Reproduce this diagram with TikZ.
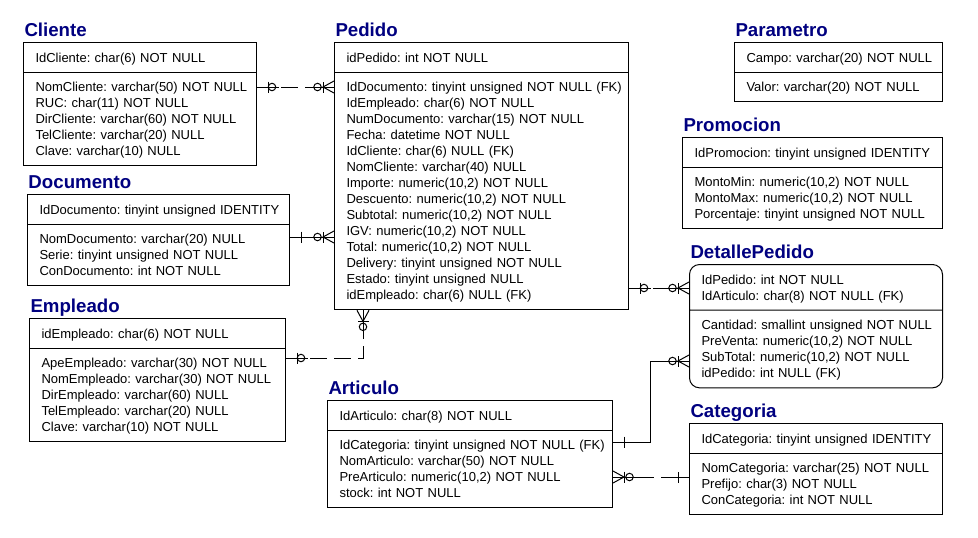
\documentclass[tikz,border=0pt]{standalone}
\usepackage{fontspec}
\setmainfont{Liberation Sans}
\usetikzlibrary{shapes.multipart}
\definecolor{erblue}{RGB}{0,0,128}
\frenchspacing
\newcommand{\fld}[1]{\mbox{\rule[-2.3pt]{0pt}{12pt}#1}}

% relationship end marks, drawn outwards from the table edge
\tikzset{
    onebar/.pic={
        \draw (0,0) -- (16,0);
        \draw (11,-5.5) -- (11,5.5);
    },
    zeroone/.pic={
        \draw (0,0) -- (22,0);
        \draw (11,-5.5) -- (11,5.5);
        \draw (15,0) circle[radius=2.8pt];
    },
    zeromany/.pic={
        \draw (0,0) -- (24,0);
        \draw (0,-6) -- (11,0) -- (0,6);
        \draw (11,-5.5) -- (11,5.5);
        \draw (16.5,0) circle[radius=2.8pt];
    },
}

\begin{document}
\begin{tikzpicture}[
        x=0.75pt, y=-0.75pt, line width=0.75pt,
        entity/.style={rectangle split, rectangle split parts=2, draw, align=left,
                       text width=#1, inner xsep=9pt, inner ysep=4.75pt,
                       font=\fontsize{9.75}{12}\selectfont, anchor=north west},
        etitle/.style={font=\fontsize{14}{16}\selectfont\bfseries, text=erblue,
                       anchor=base west, inner sep=0pt},
        relline/.style={draw},
        reldash/.style={draw, dash pattern=on 12.75pt off 5.25pt},
    ]
        \useasboundingbox[fill=white] (0,0) rectangle (978,537);

        % tables
        \node[entity=156.75pt] (cliente) at (23,42)
            {\fld{IdCliente: char(6) NOT NULL}
             \nodepart{two}\fld{NomCliente: varchar(50) NOT NULL}\\\fld{RUC: char(11) NOT NULL}\\
             \fld{DirCliente: varchar(60) NOT NULL}\\\fld{TelCliente: varchar(20) NULL}\\
             \fld{Clave: varchar(10) NULL}};
        \node[entity=178.5pt] (documento) at (27,194)
            {\fld{IdDocumento: tinyint unsigned IDENTITY}
             \nodepart{two}\fld{NomDocumento: varchar(20) NULL}\\\fld{Serie: tinyint unsigned NOT NULL}\\
             \fld{ConDocumento: int NOT NULL}};
        \node[entity=174pt] (empleado) at (29,318)
            {\fld{idEmpleado: char(6) NOT NULL}
             \nodepart{two}\fld{ApeEmpleado: varchar(30) NOT NULL}\\\fld{NomEmpleado: varchar(30) NOT NULL}\\
             \fld{DirEmpleado: varchar(60) NULL}\\\fld{TelEmpleado: varchar(20) NULL}\\
             \fld{Clave: varchar(10) NOT NULL}};
        \node[entity=202.5pt] (pedido) at (334,42)
            {\fld{idPedido: int NOT NULL}
             \nodepart{two}\fld{IdDocumento: tinyint unsigned NOT NULL (FK)}\\\fld{IdEmpleado: char(6) NOT NULL}\\
             \fld{NumDocumento: varchar(15) NOT NULL}\\\fld{Fecha: datetime NOT NULL}\\
             \fld{IdCliente: char(6) NULL (FK)}\\\fld{NomCliente: varchar(40) NULL}\\
             \fld{Importe: numeric(10,2) NOT NULL}\\\fld{Descuento: numeric(10,2) NOT NULL}\\
             \fld{Subtotal: numeric(10,2) NOT NULL}\\\fld{IGV: numeric(10,2) NOT NULL}\\
             \fld{Total: numeric(10,2) NOT NULL}\\\fld{Delivery: tinyint unsigned NOT NULL}\\
             \fld{Estado: tinyint unsigned NULL}\\\fld{idEmpleado: char(6) NULL (FK)}};
        \node[entity=138pt] (parametro) at (734,42)
            {\fld{Campo: varchar(20) NOT NULL}
             \nodepart{two}\fld{Valor: varchar(20) NOT NULL}};
        \node[entity=177pt] (promocion) at (682,137)
            {\fld{IdPromocion: tinyint unsigned IDENTITY}
             \nodepart{two}\fld{MontoMin: numeric(10,2) NOT NULL}\\\fld{MontoMax: numeric(10,2) NOT NULL}\\
             \fld{Porcentaje: tinyint unsigned NOT NULL}};
        \node[entity=171.75pt, rounded corners=7.5pt] (detalle) at (689,264)
            {\fld{IdPedido: int NOT NULL}\\\fld{IdArticulo: char(8) NOT NULL (FK)}
             \nodepart{two}\fld{Cantidad: smallint unsigned NOT NULL}\\\fld{PreVenta: numeric(10,2) NOT NULL}\\
             \fld{SubTotal: numeric(10,2) NOT NULL}\\\fld{idPedido: int NULL (FK)}};
        \node[entity=195.75pt] (articulo) at (327,400)
            {\fld{IdArticulo: char(8) NOT NULL}
             \nodepart{two}\fld{IdCategoria: tinyint unsigned NOT NULL (FK)}\\\fld{NomArticulo: varchar(50) NOT NULL}\\
             \fld{PreArticulo: numeric(10,2) NOT NULL}\\\fld{stock: int NOT NULL}};
        \node[entity=171.75pt] (categoria) at (689,423)
            {\fld{IdCategoria: tinyint unsigned IDENTITY}
             \nodepart{two}\fld{NomCategoria: varchar(25) NOT NULL}\\\fld{Prefijo: char(3) NOT NULL}\\
             \fld{ConCategoria: int NOT NULL}};

        % table names
        \node[etitle] (tcliente)   at ([shift={(1,-6)}]cliente.north west)   {Cliente};
        \node[etitle] (tdocumento) at ([shift={(1,-6)}]documento.north west) {Documento};
        \node[etitle] (templeado)  at ([shift={(1,-6)}]empleado.north west)  {Empleado};
        \node[etitle] (tpedido)    at ([shift={(1,-6)}]pedido.north west)    {Pedido};
        \node[etitle] (tparametro) at ([shift={(1,-6)}]parametro.north west) {Parametro};
        \node[etitle] (tpromocion) at ([shift={(1,-6)}]promocion.north west) {Promocion};
        \node[etitle] (tdetalle)   at ([shift={(1,-6)}]detalle.north west)   {DetallePedido};
        \node[etitle] (tarticulo)  at ([shift={(1,-6)}]articulo.north west)  {Articulo};
        \node[etitle] (tcategoria) at ([shift={(1,-6)}]categoria.north west) {Categoria};

        % connection points
        \coordinate (c1) at (cliente.east |- 0,87);
        \coordinate (p1) at (pedido.west |- 0,87);
        \coordinate (d2) at (documento.east |- 0,237);
        \coordinate (p2) at (pedido.west |- 0,237);
        \coordinate (e3) at (empleado.east |- 0,358);
        \coordinate (p3) at (pedido.south -| 363,0);
        \coordinate (p4) at (pedido.east |- 0,288);
        \coordinate (dp4) at (detalle.west |- 0,288);
        \coordinate (a5) at (articulo.east |- 0,442);
        \coordinate (kink) at (650,361);
        \coordinate (dp5) at (detalle.west |- 0,361);
        \coordinate (a6) at (articulo.east |- 0,477);
        \coordinate (k6) at (categoria.west |- 0,477);

        % relationships
        \draw[reldash] (c1) -- (p1);
        \draw[relline] (d2) -- (p2);
        \draw[reldash] (e3) -| (p3);
        \draw[reldash] (p4) -- (dp4);
        \draw[relline] (a5) -| (kink) -- (dp5);
        \draw[reldash] (a6) -- (k6);

        \pic[rotate=0]   at (c1)  {zeroone};
        \pic[rotate=180] at (p1)  {zeromany};
        \pic[rotate=0]   at (d2)  {onebar};
        \pic[rotate=180] at (p2)  {zeromany};
        \pic[rotate=0]   at (e3)  {zeroone};
        \pic[rotate=-90] at (p3)  {zeromany};
        \pic[rotate=0]   at (p4)  {zeroone};
        \pic[rotate=180] at (dp4) {zeromany};
        \pic[rotate=0]   at (a5)  {onebar};
        \pic[rotate=180] at (dp5) {zeromany};
        \pic[rotate=0]   at (a6)  {zeromany};
        \pic[rotate=180] at (k6)  {onebar};
    \end{tikzpicture}
\end{document}
